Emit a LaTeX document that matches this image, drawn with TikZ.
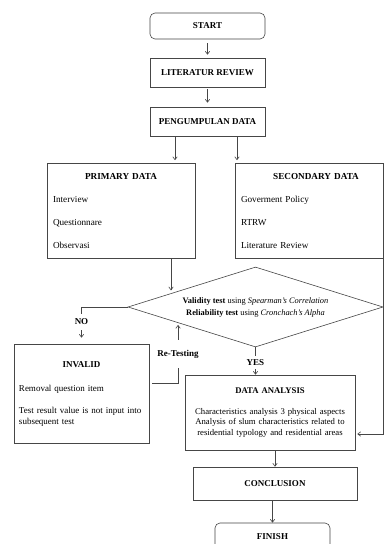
\documentclass[tikz,border=0pt]{standalone}
\usepackage{fontspec}
\setmainfont{Liberation Serif}
\usetikzlibrary{shapes.geometric,arrows.meta,calc}
\definecolor{linec}{RGB}{70,70,70}
\newcommand\ctitle[1]{\hspace*{\fill}#1\hspace*{\fill}\null}
\begin{document}
\begin{tikzpicture}[x=1pt,y=-1pt,
 box/.style={draw=linec, line width=0.6pt, inner sep=0pt, font=\fontsize{9}{11}\selectfont\bfseries},
 lst/.style={draw=linec, line width=0.6pt, inner sep=0pt, align=left, font=\fontsize{9.2}{11}\selectfont},
 arr/.style={draw=linec, line width=0.6pt, -{Straight Barb[length=3pt,width=4.5pt]}},
 lbl/.style={fill=white, inner xsep=2pt, font=\fontsize{9}{10}\selectfont\bfseries},
]
\useasboundingbox (0,0) rectangle (385,544);
\clip (0,0) rectangle (385,544);
\fill[white] (0,0) rectangle (385,544);

\node[box, rounded corners=5pt, minimum width=115pt, minimum height=26pt] (start) at (207.5,26) {START};
\node[box, minimum width=115pt, minimum height=29pt] (lit) at (207.5,72.5) {LITERATUR REVIEW};
\node[box, minimum width=115pt, minimum height=29pt] (peng) at (207.5,121.5) {PENGUMPULAN DATA};

\node[lst, minimum width=148pt, minimum height=95pt, text width=136pt] (prim) at (121,211)
 {\ctitle{\textbf{PRIMARY DATA}}\\[12.2pt] Interview\\[12.2pt] Questionnare\\[12.2pt] Observasi};
\node[lst, minimum width=148pt, minimum height=95pt, text width=136pt] (sec) at (309,211)
 {\ctitle{\hspace{14pt}\textbf{SECONDARY DATA}}\\[12.2pt] Goverment Policy\\[12.2pt] RTRW\\[12.2pt] Literature Review};

\node[draw=linec, line width=0.6pt, diamond, aspect=3.2, minimum width=255pt, minimum height=80pt,
 inner sep=0pt, align=center, font=\fontsize{8.4}{12}\selectfont] (dec) at (255.5,307)
 {\textbf{Validity test} using \textit{Spearman's Correlation}\\ \textbf{Reliability test} using \textit{Cronchach's Alpha}};

\node[lst, minimum width=135pt, minimum height=99pt, text width=125pt, font=\fontsize{9}{11}\selectfont] (inv) at (81.5,393.5)
 {\ctitle{\textbf{INVALID}}\\[13pt] Removal question item\\[11pt] \mbox{Test result value is not input into}\\ subsequent test};

\node[draw=linec, line width=0.6pt, inner sep=0pt, align=center, minimum width=170pt, minimum height=75pt,
 text width=162pt, font=\fontsize{8.7}{10.5}\selectfont] (da) at (270,412.5)
 {\textbf{DATA ANALYSIS}\\[10.5pt] Characteristics analysis 3 physical aspects\\ Analysis of slum characteristics related to\\ residential typology and residential areas};

\node[box, minimum width=164pt, minimum height=33pt] (conc) at (275,483.5) {CONCLUSION};
\node[box, rounded corners=5pt, minimum width=115pt, minimum height=28pt] (fin) at (272.5,537) {FINISH};

% connectors
\draw[arr, shorten <=4pt, shorten >=3pt] (start.south) -- (lit.north);
\draw[arr, shorten <=2pt, shorten >=4pt] (lit.south) -- (peng.north);
\coordinate (pa) at ([xshift=-32.5pt]peng.south);
\coordinate (pb) at ([xshift=29.5pt]peng.south);
\draw[arr, shorten >=3pt] (pa) -- (pa |- prim.north);
\draw[arr, shorten >=3pt] (pb) -- (pb |- sec.north);
\coordinate (pc) at ([xshift=50pt]prim.south);
\coordinate (pd) at ($(dec.west)!0.339!(dec.north)$);
\draw[arr, shorten >=3pt] (pc) -- (pc |- pd);
\draw[arr, shorten >=6pt] (dec.west) -| node[lbl, pos=0.70, inner ysep=5pt] (nolbl) {NO} (inv.north);
\coordinate (rt) at ($(dec.west)!0.394!(dec.south)$);
\draw[arr, shorten <=3pt, shorten >=2pt] ([yshift=10.5pt]inv.east) -| node[lbl, pos=0.74, inner ysep=10pt] (rtlbl) {Re-Testing} (rt);
\draw[arr] (dec.south) -- node[lbl, pos=0.54, inner ysep=3.5pt] (yeslbl) {YES} (dec.south |- da.north);
\draw[arr, shorten >=2pt] (sec.south east) |- ([yshift=-21.5pt]da.east);
\draw[arr] (conc.north |- da.south) -- (conc.north);
\draw[arr] (fin.north |- conc.south) -- (fin.north);
\end{tikzpicture}
\end{document}
